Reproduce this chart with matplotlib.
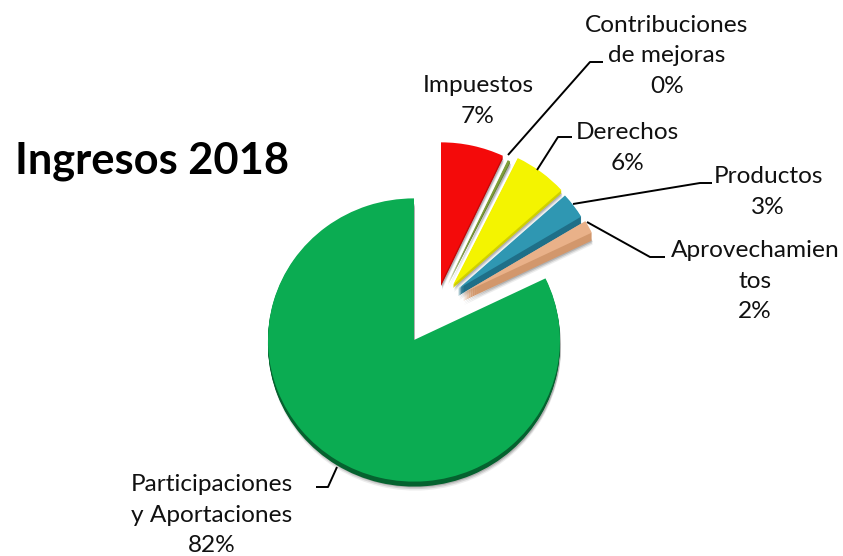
import matplotlib
matplotlib.use("Agg")
import matplotlib.pyplot as plt
from matplotlib.patches import Wedge
from matplotlib.transforms import Affine2D

plt.rcParams['font.family'] = ['Lato', 'DejaVu Sans']

nombres = ['Impuestos', 'Contribuciones', 'Derechos', 'Productos', 'Aprovechamientos', 'Participaciones']
valores = [7, 0.3, 6, 3, 1.5, 82]
colores = ['#F40A0A', '#7F9F3A', '#F4F400', '#2F97B2', '#E9B189', '#0BAC52']
lados = ['#C40808', '#66802E', '#CFCF00', '#1F6F88', '#D2976C', '#05622F']

# apex of every slice in pixels (x, y from top), radius and depth of the side
centros = [(441, 283), (448, 283), (453, 285), (458, 289), (463, 293), (414, 340)]
radios = [145, 140, 146, 144, 143, 146]
fondo = [3, 2, 3, 7, 8, 5]

etiquetas = [
    ('Impuestos\n7%', 478, 101),
    ('Contribuciones\nde mejoras\n0%', 667, 56),
    ('Derechos\n6%', 627, 148),
    ('Productos\n3%', 768, 192),
    ('Aprovechamien\ntos\n2%', 755, 281),
    ('Participaciones\ny Aportaciones\n82%', 212, 515),
]
guias = [
    ([508, 590, 603], [155, 62, 62]),
    ([537, 558, 572], [170, 137, 137]),
    ([573, 700, 712], [204, 183, 183]),
    ([587, 650, 665], [222, 257, 257]),
    ([337, 328, 316], [467, 487, 487]),
]

fig = plt.figure(figsize=(8.43, 5.56), dpi=100)
ax = fig.add_axes([0, 0, 1, 1])
wedges, _ = ax.pie(valores, colors=colores, startangle=90, counterclock=False)
ax.set_aspect('auto')
ax.set_xlim(0, 843)
ax.set_ylim(556, 0)
ax.axis('off')


def colocar(w, cx, cy, r):
    # pie is drawn on a unit circle, flip y because the axis runs from the top
    return Affine2D().scale(r, -0.97 * r).translate(cx, cy) + ax.transData


for i, w in enumerate(wedges):
    cx, cy = centros[i]
    r = radios[i]
    # soft grey shadow
    for s, a in [(fondo[i] + 4, 0.10), (fondo[i] + 2.5, 0.18), (fondo[i] + 1, 0.25)]:
        sombra = Wedge((0, 0), 1, w.theta1, w.theta2, fc='#555555', ec='none', alpha=a, zorder=1)
        sombra.set_transform(colocar(w, cx + 1, cy + s, r))
        ax.add_patch(sombra)
    # side of the slice
    for d in range(fondo[i], 0, -1):
        lado = Wedge((0, 0), 1, w.theta1, w.theta2, fc=lados[i], ec='none', zorder=2)
        lado.set_transform(colocar(w, cx, cy + d, r))
        ax.add_patch(lado)
    w.set_transform(colocar(w, cx, cy, r))
    w.set_zorder(3)

for xs, ys in guias:
    ax.plot(xs, ys, color='black', lw=1.4, zorder=4, solid_capstyle='butt')

for txt, x, y in etiquetas:
    ax.text(x, y, txt, ha='center', va='center', fontsize=17.6, linespacing=1.58, color='#111111')

ax.text(15, 161, 'Ingresos 2018', fontsize=31.2, fontweight='bold', color='black', va='center', ha='left')

fig.savefig('out.png', dpi=100)
